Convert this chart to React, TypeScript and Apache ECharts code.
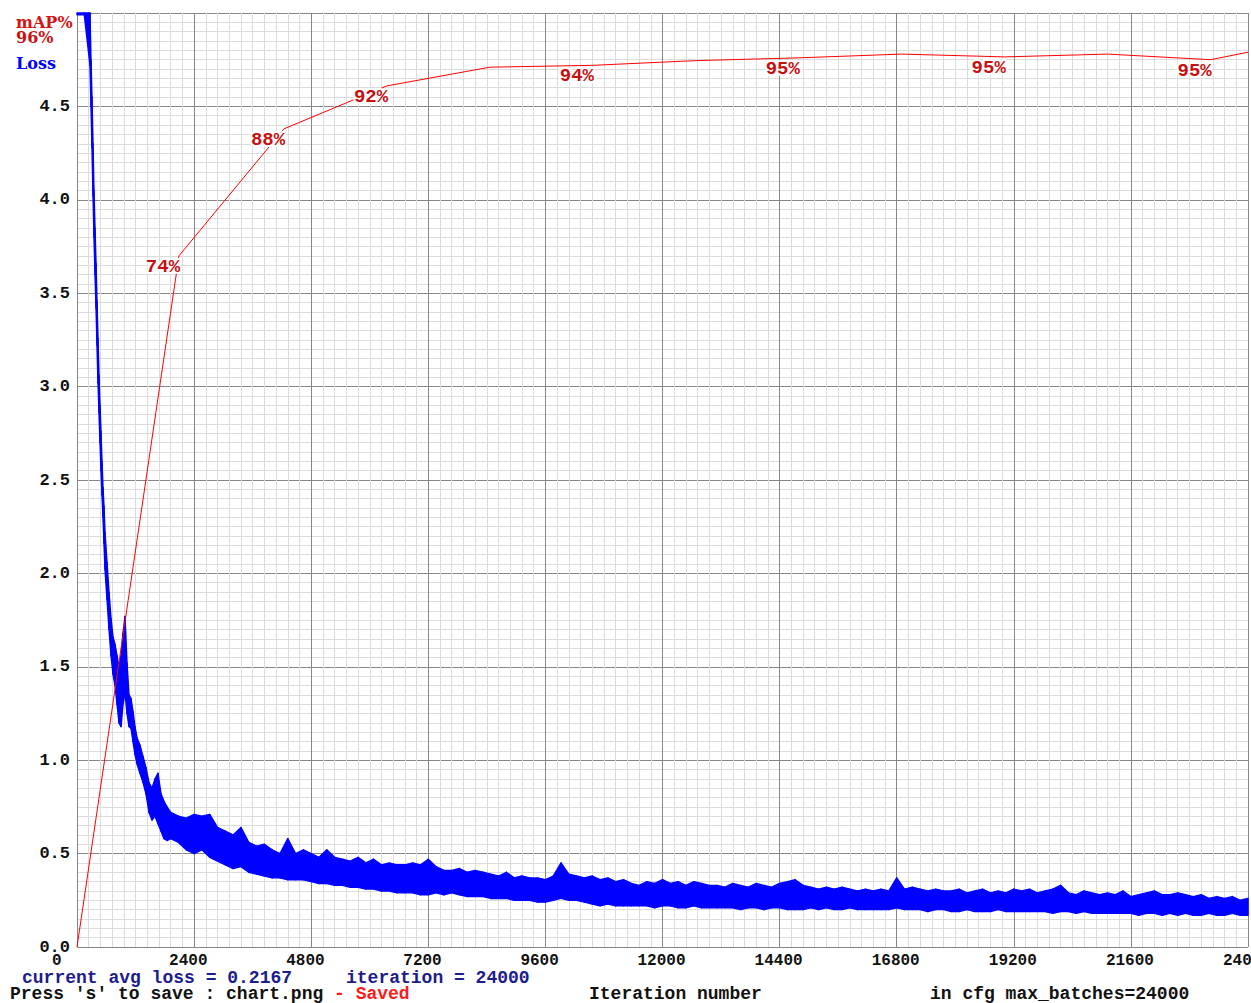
import React, { useEffect, useRef } from "react";
import * as echarts from "echarts";

// ---------- data ----------
const xTickLabels = [0, 2400, 4800, 7200, 9600, 12000, 14400, 16800, 19200, 21600, 24000];

// mAP (%) evaluated during training
const mapIter = [0, 2090, 4243, 6354, 8464, 10574, 12684, 14794, 16904, 19014, 21124, 23234, 24000];
const mapVal = [0, 74.0, 87.6, 92.2, 94.2, 94.4, 94.9, 95.2, 95.6, 95.3, 95.6, 95.0, 95.8];
const mapLabelIdx = [1, 2, 3, 5, 7, 9, 11];

// loss band: iteration, lower and upper envelope of the plotted loss points
const lossIter = [
  0, 150, 266, 287, 307, 328, 348, 369, 390, 410,
  430, 451, 471, 492, 512, 533, 553, 574, 615, 656,
  697, 738, 779, 820, 861, 902, 943, 984, 1025, 1066,
  1107, 1148, 1189, 1230, 1291, 1353, 1414, 1476, 1537, 1599,
  1660, 1722, 1783, 1845,
  1920, 2080, 2240, 2400, 2560, 2720, 2880, 3040, 3200, 3360,
  3520, 3680, 3840, 4000, 4160, 4320, 4480, 4640, 4800, 4960,
  5120, 5280, 5440, 5600, 5760, 5920, 6080, 6240, 6400, 6560,
  6720, 6880, 7040, 7200, 7360, 7520, 7680, 7840, 8000, 8160,
  8320, 8480, 8640, 8800, 8960, 9120, 9280, 9440, 9600, 9760,
  9920, 10080, 10240, 10400, 10560, 10720, 10880, 11040, 11200, 11360,
  11520, 11680, 11840, 12000, 12160, 12320, 12480, 12640, 12800, 12960,
  13120, 13280, 13440, 13600, 13760, 13920, 14080, 14240, 14400, 14560,
  14720, 14880, 15040, 15200, 15360, 15520, 15680, 15840, 16000, 16160,
  16320, 16480, 16640, 16800, 16960, 17120, 17280, 17440, 17600, 17760,
  17920, 18080, 18240, 18400, 18560, 18720, 18880, 19040, 19200, 19360,
  19520, 19680, 19840, 20000, 20160, 20320, 20480, 20640, 20800, 20960,
  21120, 21280, 21440, 21600, 21760, 21920, 22080, 22240, 22400, 22560,
  22720, 22880, 23040, 23200, 23360, 23520, 23680, 23840, 24000,
];
const lossLow = [
  4.99, 4.99, 4.72, 4.5, 4.28, 4.02, 3.8, 3.6, 3.42, 3.22,
  3.02, 2.86, 2.7, 2.55, 2.42, 2.3, 2.16, 2.02, 1.86, 1.7,
  1.56, 1.46, 1.4, 1.3, 1.2, 1.18, 1.3, 1.36, 1.25, 1.18,
  1.17, 1.1, 1.03, 0.98, 0.93, 0.88, 0.82, 0.72, 0.68, 0.70,
  0.66, 0.62, 0.58, 0.57,
  0.58, 0.56, 0.52, 0.50, 0.52, 0.48, 0.46, 0.44, 0.42, 0.43,
  0.40, 0.39, 0.38, 0.37, 0.37, 0.36, 0.36, 0.36, 0.35, 0.34,
  0.34, 0.33, 0.33, 0.32, 0.32, 0.31, 0.31, 0.30, 0.30, 0.29,
  0.29, 0.29, 0.28, 0.28, 0.29, 0.28, 0.29, 0.28, 0.27, 0.27,
  0.27, 0.26, 0.26, 0.26, 0.25, 0.25, 0.25, 0.24, 0.24, 0.25,
  0.26, 0.25, 0.25, 0.24, 0.23, 0.22, 0.23, 0.22, 0.22, 0.22,
  0.22, 0.22, 0.21, 0.22, 0.22, 0.21, 0.21, 0.22, 0.21, 0.21,
  0.21, 0.21, 0.21, 0.20, 0.21, 0.21, 0.20, 0.21, 0.21, 0.20,
  0.20, 0.20, 0.21, 0.20, 0.21, 0.20, 0.20, 0.21, 0.20, 0.20,
  0.20, 0.20, 0.20, 0.21, 0.20, 0.20, 0.20, 0.19, 0.20, 0.20,
  0.19, 0.19, 0.20, 0.19, 0.19, 0.19, 0.20, 0.19, 0.19, 0.19,
  0.19, 0.19, 0.19, 0.18, 0.19, 0.19, 0.18, 0.19, 0.18, 0.18,
  0.18, 0.18, 0.18, 0.18, 0.17, 0.18, 0.18, 0.17, 0.18, 0.17,
  0.18, 0.17, 0.17, 0.18, 0.17, 0.17, 0.18, 0.17, 0.17,
];
const lossHigh = [
  5.0, 5.0, 5.0, 4.75, 4.55, 4.3, 4.05, 3.85, 3.66, 3.46,
  3.26, 3.06, 2.9, 2.76, 2.6, 2.46, 2.36, 2.22, 2.06, 1.9,
  1.76, 1.66, 1.62, 1.56, 1.5, 1.56, 1.68, 1.77, 1.52, 1.35,
  1.33, 1.26, 1.18, 1.12, 1.08, 1.02, 0.96, 0.88, 0.85, 0.90,
  0.93, 0.82, 0.78, 0.75,
  0.72, 0.70, 0.69, 0.71, 0.70, 0.71, 0.64, 0.62, 0.60, 0.64,
  0.56, 0.54, 0.55, 0.52, 0.50, 0.58, 0.50, 0.52, 0.50, 0.48,
  0.52, 0.48, 0.47, 0.46, 0.48, 0.45, 0.47, 0.44, 0.45, 0.44,
  0.44, 0.45, 0.44, 0.47, 0.43, 0.41, 0.41, 0.42, 0.40, 0.41,
  0.40, 0.39, 0.38, 0.40, 0.37, 0.38, 0.37, 0.37, 0.36, 0.38,
  0.45, 0.39, 0.38, 0.37, 0.38, 0.36, 0.37, 0.35, 0.36, 0.34,
  0.33, 0.35, 0.34, 0.36, 0.34, 0.35, 0.33, 0.35, 0.34, 0.33,
  0.33, 0.32, 0.34, 0.33, 0.32, 0.34, 0.33, 0.32, 0.34, 0.35,
  0.36, 0.33, 0.32, 0.31, 0.32, 0.31, 0.32, 0.31, 0.30, 0.31,
  0.30, 0.31, 0.30, 0.37, 0.31, 0.32, 0.31, 0.30, 0.31, 0.30,
  0.30, 0.31, 0.29, 0.30, 0.31, 0.29, 0.30, 0.29, 0.31, 0.30,
  0.31, 0.29, 0.30, 0.31, 0.33, 0.29, 0.28, 0.30, 0.29, 0.28,
  0.29, 0.28, 0.30, 0.27, 0.28, 0.29, 0.30, 0.28, 0.28, 0.29,
  0.28, 0.27, 0.28, 0.26, 0.27, 0.26, 0.27, 0.25, 0.26,
];

const MONO = '"Liberation Mono", "DejaVu Sans Mono", monospace';
const SERIF = '"DejaVu Serif", "Liberation Serif", serif';

export default function App() {
  const ref = useRef<HTMLDivElement>(null);

  useEffect(() => {
    const chart = echarts.init(ref.current!, null, { renderer: "svg", width: 1251, height: 1003 });

    const gridBox = { top: 13, width: 1171, height: 934, outerBoundsMode: "none", containLabel: false };
    const txt = (text: string, x: number, y: number, fill: string, font: string) => ({
      type: "text",
      x,
      y,
      style: { text, fill, font, verticalAlign: "middle", lineHeight: 13 },
    });

    const option: any = {
      animation: false,
      backgroundColor: "#ffffff",
      grid: [
        { left: 77, ...gridBox, show: false },
        { left: 52, ...gridBox, show: false },
      ],
      xAxis: [
        {
          gridIndex: 0,
          type: "value",
          min: 0,
          max: 24000,
          interval: 2400,
          axisLine: { show: false },
          axisTick: { show: false },
          axisLabel: { show: false },
          splitLine: { show: true, lineStyle: { color: "#878787", width: 1 } },
          minorTick: { show: false, splitNumber: 10 },
          minorSplitLine: { show: true, lineStyle: { color: "#dcdcdc", width: 1 } },
        },
        {
          gridIndex: 1,
          type: "value",
          min: 0,
          max: 24000,
          interval: 2400,
          axisLine: { show: false },
          axisTick: { show: false },
          splitLine: { show: false },
          axisLabel: {
            show: true,
            customValues: xTickLabels,
            align: "left",
            alignMinLabel: "left",
            alignMaxLabel: "left",
            hideOverlap: false,
            margin: 8,
            lineHeight: 12,
            fontFamily: MONO,
            fontSize: 16,
            fontWeight: "bold",
            color: "#111",
            formatter: (v: number) => String(v),
          },
        },
      ],
      yAxis: [
        {
          gridIndex: 0,
          type: "value",
          min: 0,
          max: 5,
          interval: 0.5,
          axisLine: { show: false },
          axisTick: { show: false },
          axisLabel: {
            margin: 7,
            showMaxLabel: false,
            lineHeight: 12,
            fontFamily: MONO,
            fontSize: 17,
            fontWeight: "bold",
            color: "#111",
            formatter: (v: number) => v.toFixed(1),
          },
          splitLine: { show: true, lineStyle: { color: "#878787", width: 1 } },
          minorTick: { show: false, splitNumber: 10 },
          minorSplitLine: { show: true, lineStyle: { color: "#dcdcdc", width: 1 } },
        },
        { gridIndex: 0, type: "value", min: 0, max: 100, show: false },
        { gridIndex: 1, type: "value", min: 0, max: 5, show: false },
      ],
      series: [
        {
          type: "custom",
          xAxisIndex: 0,
          yAxisIndex: 0,
          clip: false,
          z: 2,
          data: lossIter.map((it, i) => [it, lossLow[i], lossHigh[i]]),
          encode: { x: 0, y: [1, 2] },
          renderItem: (params: any, api: any) => {
            const i = params.dataIndex;
            if (i >= lossIter.length - 1) return { type: "group", children: [] };
            const a = api.coord([lossIter[i], lossLow[i]]);
            const b = api.coord([lossIter[i], lossHigh[i]]);
            const c = api.coord([lossIter[i + 1], lossHigh[i + 1]]);
            const d = api.coord([lossIter[i + 1], lossLow[i + 1]]);
            return {
              type: "polygon",
              shape: { points: [a, b, c, d] },
              style: { fill: "#0000ff", stroke: "#0000ff", lineWidth: 1.4, lineJoin: "round" },
            };
          },
        },
        {
          type: "line",
          xAxisIndex: 0,
          yAxisIndex: 1,
          z: 3,
          showSymbol: true,
          symbol: "circle",
          symbolSize: 0.1,
          itemStyle: { color: "#ff0000" },
          lineStyle: { color: "#ff0000", width: 1 },
          data: mapIter.map((it, i) => ({
            value: [it, mapVal[i]],
            label: { show: mapLabelIdx.includes(i) },
          })),
          label: {
            position: "inside",
            offset: [-16, 11],
            formatter: (p: any) => Math.round(p.value[1]) + "%",
            color: "#c81010",
            fontFamily: MONO,
            fontSize: 19,
            fontWeight: "bold",
            textBorderColor: "#ffffff",
            textBorderWidth: 4,
          },
        },
      ],
      graphic: [
        txt("mAP%", 16, 22, "#d41414", `bold 16px ${SERIF}`),
        txt("96%", 16, 37, "#c81414", `bold 16px ${SERIF}`),
        txt("Loss", 16, 63, "#0000ff", `bold 16px ${SERIF}`),
        txt("current avg loss = 0.2167", 22, 978, "#1c1c8c", `bold 18px ${MONO}`),
        txt("iteration = 24000", 346, 978, "#1c1c8c", `bold 18px ${MONO}`),
        {
          type: "text",
          x: 10,
          y: 994,
          style: {
            text: "{k|Press 's' to save : chart.png }{r|- Saved}",
            verticalAlign: "middle",
            rich: {
              k: { fill: "#111", font: `bold 18px ${MONO}`, lineHeight: 13 },
              r: { fill: "#ff1a1a", font: `bold 18px ${MONO}`, lineHeight: 13 },
            },
          },
        },
        txt("Iteration number", 589, 994, "#111", `bold 18px ${MONO}`),
        txt("in cfg max_batches=24000", 930, 994, "#111", `bold 18px ${MONO}`),
      ],
    };

    chart.setOption(option);
    return () => chart.dispose();
  }, []);

  return (
    <div
      ref={ref}
      style={{ position: "fixed", left: 0, top: 0, width: 1251, height: 1003, background: "#fff" }}
    />
  );
}
